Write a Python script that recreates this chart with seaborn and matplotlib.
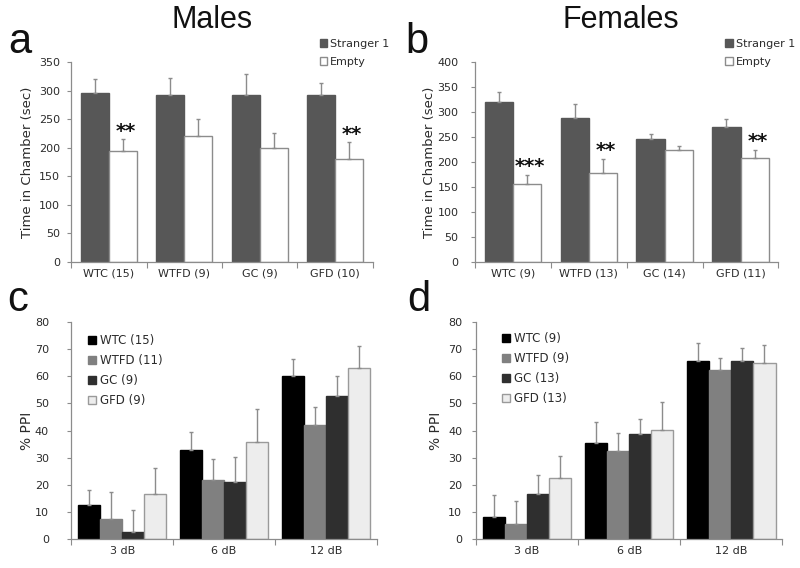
import numpy as np
import pandas as pd
import seaborn as sns
import matplotlib.pyplot as plt
from matplotlib.patches import Patch

sns.set_theme(style="white")
plt.rcParams["font.family"] = ["DejaVu Sans"]

# --- three chamber test (a = males, b = females) ---
groups_m = ["WTC (15)", "WTFD (9)", "GC (9)", "GFD (10)"]
stranger_m = [296, 293, 293, 292]
stranger_m_err = [24, 29, 37, 22]
empty_m = [195, 221, 200, 180]
empty_m_err = [20, 29, 26, 30]
stars_m = ["**", "", "", "**"]

groups_f = ["WTC (9)", "WTFD (13)", "GC (14)", "GFD (11)"]
stranger_f = [320, 288, 246, 271]
stranger_f_err = [20, 29, 10, 15]
empty_f = [156, 179, 224, 209]
empty_f_err = [19, 28, 9, 16]
stars_f = ["***", "**", "", "**"]

# --- prepulse inhibition (c = males, d = females) ---
db_levels = ["3 dB", "6 dB", "12 dB"]

ppi_groups_m = ["WTC (15)", "WTFD (11)", "GC (9)", "GFD (9)"]
wtc_m = [12.5, 32.7, 60.0]
wtc_m_err = [5.8, 6.6, 6.2]
wtfd_m = [7.4, 21.7, 41.9]
wtfd_m_err = [10.0, 7.7, 6.8]
gc_m = [2.8, 21.2, 52.8]
gc_m_err = [7.9, 9.2, 7.4]
gfd_m = [16.5, 35.7, 63.1]
gfd_m_err = [9.8, 12.2, 8.1]

ppi_groups_f = ["WTC (9)", "WTFD (9)", "GC (13)", "GFD (13)"]
wtc_f = [8.3, 35.3, 65.6]
wtc_f_err = [8.0, 8.0, 6.6]
wtfd_f = [5.8, 32.5, 62.3]
wtfd_f_err = [8.3, 6.5, 4.5]
gc_f = [16.7, 38.6, 65.7]
gc_f_err = [7.0, 5.5, 4.8]
gfd_f = [22.5, 40.2, 64.7]
gfd_f_err = [8.1, 10.2, 6.6]

gray = "#8c8c8c"
txt = "#2b2b2b"
c_stranger = "#575757"
ppi_colors = ["#000000", "#808080", "#2f2f2f", "#ededed"]
ppi_edges = ["#000000", "#808080", "#2f2f2f", "#9a9a9a"]


def style_axis(ax, n_cat, ymax, ystep, ypad, ylabel, ylab_x, ylab_size):
    sns.despine(ax=ax)
    for s in ["left", "bottom"]:
        ax.spines[s].set_color(gray)
        ax.spines[s].set_linewidth(0.9)
    ax.set_ylim(0, ymax)
    ax.set_yticks(np.arange(0, ymax + 1, ystep))
    ax.set_xlim(-0.5, n_cat - 0.5)
    ax.set_xticks(np.arange(-0.5, n_cat), minor=True)
    ax.tick_params(axis="x", which="major", length=0, pad=5, labelsize=8, labelcolor=txt)
    ax.tick_params(axis="x", which="minor", length=4, width=0.8, color=gray, direction="out", bottom=True)
    ax.tick_params(axis="y", length=3, width=0.8, color=gray, direction="out", left=True,
                   pad=ypad, labelsize=8, labelcolor=txt)
    ax.set_xlabel("")
    ax.set_ylabel(ylabel, fontsize=ylab_size, color=txt)
    ax.yaxis.set_label_coords(ylab_x, 0.5)


def social_panel(ax, groups, s, s_err, e, e_err, stars, ymax, ypad, ylab_x):
    df = pd.DataFrame({
        "group": groups * 2,
        "cond": ["Stranger 1"] * len(groups) + ["Empty"] * len(groups),
        "time": s + e,
    })
    sns.barplot(data=df, x="group", y="time", hue="cond", palette=[c_stranger, "white"],
                errorbar=None, width=0.745, saturation=1, legend=False, ax=ax)
    for cont, errs, ec in zip(ax.containers, [s_err, e_err], [c_stranger, gray]):
        for bar, er in zip(cont, errs):
            bar.set_edgecolor(ec)
            bar.set_linewidth(1)
            x = bar.get_x() + bar.get_width() / 2
            h = bar.get_height()
            ax.errorbar(x, h, yerr=[[0], [er]], fmt="none", ecolor=gray, elinewidth=1,
                        capsize=1.5, capthick=1)
    for bar, er, st in zip(ax.containers[1], e_err, stars):
        if st:
            x = bar.get_x() + bar.get_width() / 2
            ax.text(x + 0.04, bar.get_height() + er + ymax * 0.04, st, ha="center", va="center",
                    fontsize=14, fontweight="bold", color="#111111")
    style_axis(ax, len(groups), ymax, 50, ypad, "Time in Chamber (sec)", ylab_x, 9.5)
    handles = [Patch(facecolor=c_stranger, edgecolor=c_stranger),
               Patch(facecolor="white", edgecolor=gray)]
    ax.legend(handles, ["Stranger 1", "Empty"], loc="upper right", bbox_to_anchor=(1.07, 1.14),
              frameon=False, fontsize=8, handlelength=0.7, handleheight=0.7,
              handletextpad=0.25, labelspacing=0.75, borderaxespad=0, labelcolor=txt)


def ppi_panel(ax, labels, vals, errs, ypad, ylab_x, leg_xy):
    df = pd.DataFrame({
        "db": db_levels * len(labels),
        "grp": [g for g in labels for _ in db_levels],
        "ppi": sum(vals, []),
    })
    sns.barplot(data=df, x="db", y="ppi", hue="grp", palette=ppi_colors, errorbar=None,
                width=0.865, saturation=1, legend=False, ax=ax)
    for cont, err, ec in zip(ax.containers, errs, ppi_edges):
        for bar, er in zip(cont, err):
            bar.set_edgecolor(ec)
            bar.set_linewidth(1)
            x = bar.get_x() + bar.get_width() / 2
            ax.errorbar(x, bar.get_height(), yerr=[[0], [er]], fmt="none", ecolor=gray,
                        elinewidth=1, capsize=1.5, capthick=1)
    style_axis(ax, len(db_levels), 80, 10, ypad, "% PPI", ylab_x, 10)
    handles = [Patch(facecolor=c, edgecolor=e) for c, e in zip(ppi_colors, ppi_edges)]
    ax.legend(handles, labels, loc="upper left", bbox_to_anchor=leg_xy, frameon=False,
              fontsize=8.5, handlelength=0.7, handleheight=0.7, handletextpad=0.3,
              labelspacing=0.6, borderaxespad=0, labelcolor=txt)


fig = plt.figure(figsize=(8, 5.68), dpi=100)
ax_a = fig.add_axes([0.089, 0.5387, 0.377, 0.352])
ax_b = fig.add_axes([0.594, 0.5387, 0.379, 0.352])
ax_c = fig.add_axes([0.089, 0.0505, 0.382, 0.383])
ax_d = fig.add_axes([0.595, 0.0505, 0.383, 0.383])

social_panel(ax_a, groups_m, stranger_m, stranger_m_err, empty_m, empty_m_err, stars_m,
             350, 5, -0.122)
social_panel(ax_b, groups_f, stranger_f, stranger_f_err, empty_f, empty_f_err, stars_f,
             400, 9, -0.129)
ppi_panel(ax_c, ppi_groups_m, [wtc_m, wtfd_m, gc_m, gfd_m],
          [wtc_m_err, wtfd_m_err, gc_m_err, gfd_m_err], 13, -0.122, (0.04, 0.965))
ppi_panel(ax_d, ppi_groups_f, [wtc_f, wtfd_f, gc_f, gfd_f],
          [wtc_f_err, wtfd_f_err, gc_f_err, gfd_f_err], 7, -0.108, (0.07, 0.975))

title_font = ["Liberation Sans", "DejaVu Sans"]
fig.text(212 / 800, 1 - 20 / 568, "Males", ha="center", va="center", fontsize=22,
         family=title_font, color="#111111")
fig.text(621 / 800, 1 - 20 / 568, "Females", ha="center", va="center", fontsize=22,
         family=title_font, color="#111111")
for lab, x, y in [("a", 8, 53), ("b", 405, 53), ("c", 7, 311), ("d", 407, 311)]:
    fig.text(x / 800, 1 - y / 568, lab, ha="left", va="baseline", fontsize=30,
             family=title_font, color="#111111")

fig.savefig("out.png", dpi=100)
